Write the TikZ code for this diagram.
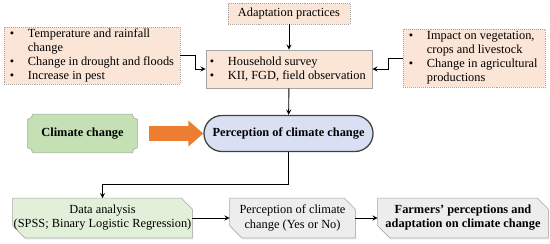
\documentclass[tikz,border=0pt]{standalone}
\usepackage{fontspec}
\setmainfont{Liberation Serif}
\usetikzlibrary{arrows,arrows.meta,shapes,backgrounds}
\definecolor{peach}{HTML}{FBE5D6}
\definecolor{leaf}{HTML}{C5E0B4}
\definecolor{paleleaf}{HTML}{E2F0D9}
\definecolor{lilac}{HTML}{DAE0F3}
\definecolor{ash}{HTML}{EDEDED}
\definecolor{rim}{HTML}{A5A5A5}
\definecolor{carrot}{HTML}{ED7D31}
\newcommand{\blt}{\makebox[0.45cm][l]{\textbullet}}
\newcommand{\bltgap}{\hspace*{0.45cm}}
\tikzstyle{txt}=[inner sep=0pt,align=center,font=\fontsize{8.8}{10}\selectfont]
\tikzstyle{bold}=[font=\fontsize{8.8}{10}\selectfont\bfseries]
\tikzstyle{pbox}=[txt,rectangle,fill=peach,draw=rim,densely dotted,align=flush left,inner xsep=0.15cm]
\tikzstyle{term}=[txt,bold,rounded rectangle,draw=black!75,line width=0.9pt,fill=lilac,minimum width=4.225cm,minimum height=0.9cm]
\tikzstyle{snip}=[draw=rim,line width=0.4pt,preaction={fill=black!12,transform canvas={xshift=0.6pt,yshift=-1.2pt}}]
\tikzstyle{flow}=[->,>=stealth,line width=0.65pt]
\tikzstyle{bigarrow}=[-{Triangle[length=0.375cm,width=0.625cm]},carrot,line width=0.35cm,shorten <=0.28cm]

\begin{document}
\begin{tikzpicture}[x=0.025cm,y=0.025cm]
\useasboundingbox (0,0) rectangle (550,243);
% top row
\node[pbox,align=center,minimum width=3.05cm,minimum height=0.525cm] (adap) at (289,229.5) {Adaptation practices};
\node[pbox,text width=4.1cm,minimum height=1.425cm] (drv) at (92,187.5) {\blt Temperature and rainfall\\ \bltgap change\\ \blt Change in drought and floods\\ \blt Increase in pest};
\node[pbox,solid,inner xsep=0.1cm,text width=3.95cm,minimum height=0.95cm] (hh) at (289,174) {\blt Household survey\\ \blt KII, FGD, field observation};
\node[pbox,text width=3.25cm,minimum height=1.45cm] (imp) at (474,185) {\blt Impact on vegetation,\\ \bltgap crops and livestock\\ \blt Change in agricultural\\ \bltgap productions};
% middle row
\node[txt,bold,minimum width=2.725cm,minimum height=0.95cm] (cc) at (82.5,109.5) {Climate change};
\node[term] (perc) at (288.5,109.5) {Perception of climate change};
% bottom row
\node[txt,minimum width=4.475cm,minimum height=0.975cm] (da) at (102.5,25) {Data analysis\\(SPSS; Binary Logistic Regression)};
\node[txt,minimum width=3.125cm,minimum height=0.975cm] (pyn) at (292.5,25) {Perception of climate\\change (Yes or No)};
\node[txt,bold,minimum width=4.25cm,minimum height=0.975cm] (farm) at (463,25) {Farmers' perceptions and\\adaptation on climate change};
\begin{scope}[on background layer]
\filldraw[fill=leaf,draw=rim] ([xshift=0.125cm]cc.north west) -- ([xshift=-0.125cm]cc.north east) arc[start angle=180,end angle=270,radius=0.125cm]
  -- ([yshift=0.125cm]cc.south east) arc[start angle=90,end angle=180,radius=0.125cm]
  -- ([xshift=0.125cm]cc.south west) arc[start angle=0,end angle=90,radius=0.125cm]
  -- ([yshift=-0.125cm]cc.north west) arc[start angle=270,end angle=360,radius=0.125cm] -- cycle;
\foreach \n/\c in {da/paleleaf,pyn/ash,farm/ash}
  \filldraw[snip,fill=\c] ([xshift=-0.27cm]\n.north east) -- ([yshift=-0.27cm]\n.north east) -- (\n.south east)
    -- ([xshift=0.3cm]\n.south west) -- ([yshift=0.3cm]\n.south west) -- (\n.north west) -- cycle;
\end{scope}
% connectors
\draw[flow] (adap) -- (hh);
\draw[flow] (drv.east) -- ++(15,0) |- (hh.west);
\draw[flow] (imp.west) -- ++(-14,0) |- (hh.east);
\draw[flow] (hh) -- (perc);
\draw[bigarrow] (cc) -- (perc);
\draw[flow] (perc.south) -- ++(0,-32) -| (da.north);
\draw[flow] (da) -- (pyn);
\draw[flow] (pyn) -- (farm);
\end{tikzpicture}
\end{document}
